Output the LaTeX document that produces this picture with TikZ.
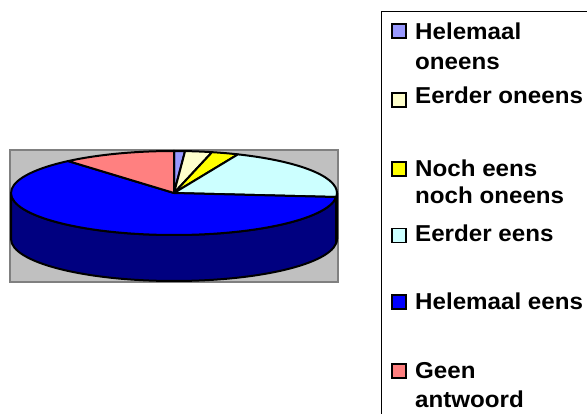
\documentclass[tikz,border=0pt]{standalone}
\usepackage{fontspec}
\setmainfont{Liberation Sans}
\newfontfamily\legfont[FakeStretch=1.05]{Liberation Sans}
\definecolor{lav}{HTML}{9999FF}
\definecolor{cream}{HTML}{FFFFCC}
\definecolor{yel}{HTML}{FFFF00}
\definecolor{lcyan}{HTML}{CCFFFF}
\definecolor{bblue}{HTML}{0000FF}
\definecolor{salmon}{HTML}{FF8080}
\definecolor{navyside}{HTML}{000080}
\definecolor{cyanside}{HTML}{668080}
\definecolor{plotgray}{HTML}{C0C0C0}
\definecolor{plotedge}{HTML}{808080}
\tikzset{
  slicestyle/.style={draw=black, line width=2pt, line join=round},
  keybox/.style={draw=black, line width=1.6pt},
  keytext/.style={anchor=base west, inner sep=0pt, font=\legfont\fontsize{23}{23}\selectfont\bfseries},
}
\newcommand{\pieslice}[3]{%
  \filldraw[slicestyle, fill=#3] (174,-193) -- ++(#1:163 and 42)
    arc[start angle=#1, end angle=#2, x radius=163, y radius=42] -- cycle;}
\begin{document}
\begin{tikzpicture}[x=1pt,y=1pt]
\useasboundingbox (0,0) rectangle (587,-414);
% plot area
\filldraw[fill=plotgray, draw=plotedge, line width=2pt] (10,-150) rectangle (338,-282);
% side walls
\filldraw[slicestyle, fill=navyside] (337,-193) -- ++(0,-46)
  arc[start angle=0, end angle=-180, x radius=163, y radius=42] -- ++(0,46)
  arc[start angle=180, end angle=360, x radius=163, y radius=42] -- cycle;
\filldraw[slicestyle, fill=cyanside] (337,-193) -- ++(0,-46)
  arc[start angle=0, end angle=-5.5, x radius=163, y radius=42] -- ++(0,46)
  arc[start angle=-5.5, end angle=0, x radius=163, y radius=42] -- cycle;
% top slices
\pieslice{90}{86.1}{lav}
\pieslice{86.1}{76.5}{cream}
\pieslice{76.5}{66.9}{yel}
\pieslice{66.9}{-5.5}{lcyan}
\pieslice{-5.5}{-229.5}{bblue}
\pieslice{130.5}{90}{salmon}
% legend frame
\draw[black, line width=1.8pt] (381.5,-420) -- (381.5,-11.5) -- (595,-11.5);
% legend keys
\filldraw[keybox, fill=lav] (392,-24) rectangle (406,-38);
\node[keytext] (t1a) at (415,-40) {Helemaal};
\node[keytext] (t1b) at (415,-70) {oneens};
\filldraw[keybox, fill=cream] (392,-93) rectangle (406,-107);
\node[keytext] (t2) at (415,-104) {Eerder oneens};
\filldraw[keybox, fill=yel] (392,-162) rectangle (406,-176);
\node[keytext] (t3a) at (415,-176.5) {Noch eens};
\node[keytext] (t3b) at (415,-204) {noch oneens};
\filldraw[keybox, fill=lcyan] (392,-228.5) rectangle (406,-242.5);
\node[keytext] (t4) at (415,-242) {Eerder eens};
\filldraw[keybox, fill=bblue] (392,-295) rectangle (406,-309);
\node[keytext] (t5) at (415,-309.5) {Helemaal eens};
\filldraw[keybox, fill=salmon] (392,-364) rectangle (406,-378);
\node[keytext] (t6a) at (415,-379) {Geen};
\node[keytext] (t6b) at (415,-407) {antwoord};
\end{tikzpicture}
\end{document}
